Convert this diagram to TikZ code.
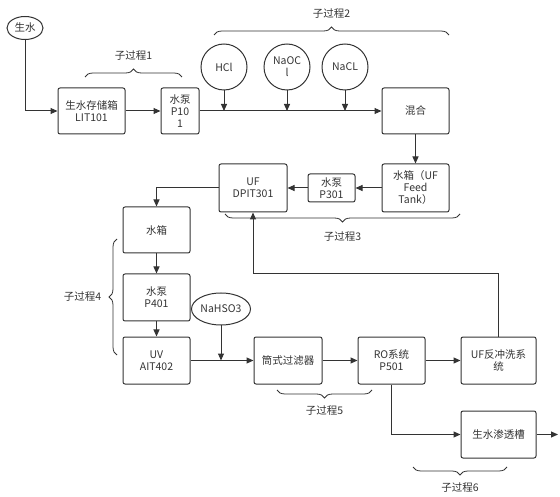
\documentclass[tikz,border=0pt]{standalone}
\usepackage{fontspec}
\setmainfont{Noto Sans CJK SC}
\usetikzlibrary{arrows.meta, positioning, shapes.geometric, decorations.pathreplacing}
\definecolor{ink}{HTML}{333333}

\begin{document}
\begin{tikzpicture}[
  x=1pt, y=-1pt,
  font=\fontsize{10.5}{12}\selectfont,
  blk/.style={draw=ink, rounded corners=2pt, line width=1pt, text=ink,
              align=center, inner sep=1pt,
              minimum width=67pt, minimum height=46pt},
  chem/.style={draw=ink, circle, line width=1pt, minimum size=46pt,
               inner sep=1pt, align=center, text=ink},
  oval/.style={draw=ink, ellipse, line width=1pt, inner sep=1pt, text=ink},
  arr/.style={-{Triangle[length=7pt, width=6pt]}, draw=ink, line width=1pt},
  brc/.style={decorate, decoration={brace, amplitude=8pt}, draw=ink, line width=0.8pt},
  lbl/.style={text=ink}
]
  \useasboundingbox (0,0) rectangle (560,497);

  % Sub-process 1
  \node[oval, minimum width=36pt, minimum height=23pt] (raw) at (25,28) {生水};
  \node[blk] (lit) at (91.5,111) {生水存储箱\\LIT101};
  \node[blk, minimum width=38pt] (p101) at (180,111) {水泵\\P10\\1};

  % Sub-process 2
  \node[chem] (hcl) at (224,67) {HCl};
  \node[chem] (naocl) at (287,67) {NaOC\\l};
  \node[chem] (nacl) at (345,67) {NaCL};
  \node[blk] (mix) at (415.5,111) {混合};

  % Sub-process 3
  \node[blk, minimum height=48pt] (feed) at (415.5,188) {水箱（UF\\Feed\\Tank）};
  \node[blk, minimum width=47pt, minimum height=28pt] (p301) at (331.5,188) {水泵\\P301};
  \node[blk, minimum width=68pt, minimum height=48pt] (dpit) at (253,188) {UF\\DPIT301};

  % Sub-process 4
  \node[blk] (tank) at (156.5,230) {水箱};
  \node[blk, minimum height=47pt] (p401) at (156.5,297.5) {水泵\\P401};
  \node[blk, minimum height=47pt] (uv) at (156.5,360.5) {UV\\AIT402};
  \node[oval, inner xsep=0pt, inner ysep=4pt, minimum width=59pt, minimum height=32pt]
    (nahso3) at (221,309) {NaHSO3};

  % Sub-process 5 and 6
  \node[blk, minimum width=68pt, minimum height=47pt] (filt) at (288,360.5) {筒式过滤器};
  \node[blk, minimum height=47pt] (ro) at (391.5,360.5) {RO系统\\P501};
  \node[blk, minimum width=75pt, minimum height=47pt] (ufbw) at (498.5,360.5) {UF反冲洗系\\统};
  \node[blk, minimum width=75pt, minimum height=47pt] (perm) at (498.5,434.5) {生水渗透槽};
  \coordinate (out) at (558,434.5);

  \draw[arr] (raw.south) |- (lit.west);
  \draw[arr] (lit) -- (p101);
  \draw[arr] (p101.east) -- (mix.west);
  \draw[arr] (hcl.south) -- (hcl.south |- p101.east);
  \draw[arr] (naocl.south) -- (naocl.south |- p101.east);
  \draw[arr] (nacl.south) -- (nacl.south |- p101.east);
  \draw[arr] (mix) -- (feed);
  \draw[arr] (feed) -- (p301);
  \draw[arr] (p301) -- (dpit);
  \draw[arr] (dpit.west) -| (tank.north);
  \draw[arr] (tank) -- (p401);
  \draw[arr] (p401) -- (uv);
  \draw[arr] (uv) -- (filt);
  \draw[arr] (nahso3.south) -- (nahso3.south |- uv.east);
  \draw[arr] (filt) -- (ro);
  \draw[arr] (ro) -- (ufbw);
  \draw[arr] (ro.south) |- (perm.west);
  \draw[arr] (perm.east) -- (out);
  \draw[arr] (ufbw.north) -- ++(0,-63) -| (dpit.south);

  % braces
  \draw[brc] (85,77) -- (182,77) node[lbl, midway, above=13pt] {子过程1};
  \draw[brc] (214,35) -- (449,35) node[lbl, midway, above=13pt] {子过程2};
  \draw[brc] (460,214) -- (225,214) node[lbl, midway, below=14pt] {子过程3};
  \draw[brc] (117,355) -- (117,239) node[lbl, midway, left=12pt] {子过程4};
  \draw[brc] (372,390) -- (277,390) node[lbl, midway, below=12pt] {子过程5};
  \draw[brc] (507,467) -- (413,467) node[lbl, midway, below=12pt] {子过程6};
\end{tikzpicture}
\end{document}
